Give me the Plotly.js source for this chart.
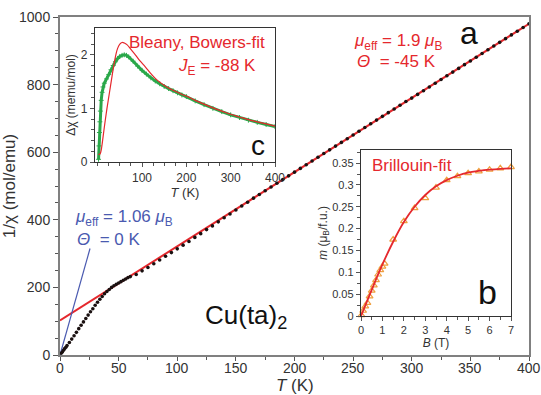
<!DOCTYPE html>
<html><head><meta charset="utf-8">
<script src="https://cdn.plot.ly/plotly-3.0.1.min.js"></script>
<style>html,body{margin:0;padding:0;background:#fff}#c{width:541px;height:395px}</style>
</head><body><div id="c"></div>
<script>
// ---- main panel (a): 1/chi vs T ----
const mainT = [1,2,3,4,5,6,8,10,12,14,16,18,20,22,24,26,28,30,32,34,36,38,40,42,44,46,48,50,52,54,56,58,60,
  65,70,75,80,85,90,95,100,105,110,115,120,125,130,135,140,145,150,155,160,165,170,175,180,185,190,195,200,
  205,210,215,220,225,230,235,240,245,250,255,260,265,270,275,280,285,290,295,300,305,310,315,320,325,330,
  335,340,345,350,355,360,365,370,375,380,385,390,395,400];
const mainInvChi = [5,9,14,19,23,28,37,47,57,67,78,88,98,108,118,128,137,147,156,165,173,181,188,194,200,205,209,213,217,221,225,229,232,
  238,249,259,270,281,292,303,314,325,336,348,359,371,382,394,406,417,429,441,452,464,475,486,497,508,519,530,541,
  552,563,574,585,596,607,618,629,640,651,662,673,684,695,706,717,728,739,750,760,771,782,793,804,815,826,
  837,848,859,870,881,892,903,914,925,936,947,958,969,980];
const cwFitT = [0, 400];
const cwFitY = [102, 980];
const lowFitT = [0, 25.6];
const lowFitY = [0, 315];
const mainXTicks = [0, 50, 100, 150, 200, 250, 300, 350, 400];
const mainYTicks = [0, 200, 400, 600, 800, 1000];

// ---- inset (c): delta chi vs T ----
const cT = [2,3,4,5,6,8,10,12,15,20,25,30,35,40,45,50,55,60,65,70,80,90,100,110,120,130,140,150,160,170,180,190,200,
  220,240,260,280,300,320,340,360,380,400];
const cChi = [0.05,0.3,0.55,0.75,0.95,1.15,1.3,1.4,1.47,1.55,1.63,1.72,1.8,1.87,1.93,1.97,1.99,2.0,1.99,1.96,1.88,1.79,1.71,1.64,1.57,1.51,1.46,1.41,1.37,1.33,1.29,1.25,1.22,
  1.14,1.07,1.0,0.94,0.88,0.83,0.78,0.74,0.70,0.66];
const bbT = [2,4,6,8,10,13,17,21,25,29,33,37,41,45,50,55,60,66,75,85,95,107,120,130,140,150,160,170,180,190,200,
  220,240,260,280,300,320,340,360,380,400];
const bbChi = [0.15,0.14,0.16,0.22,0.33,0.52,0.77,1.0,1.21,1.42,1.63,1.83,2.0,2.12,2.2,2.23,2.22,2.19,2.1,2.0,1.89,1.78,1.65,1.56,1.49,1.43,1.38,1.34,1.3,1.26,1.23,
  1.15,1.08,1.01,0.95,0.89,0.84,0.79,0.75,0.71,0.67];
const cXTicks = [100, 200, 300, 400];
const cYTicks = [0, 1, 2];

// ---- inset (b): magnetisation vs B ----
const bField = [0.02,0.1,0.2,0.3,0.4,0.5,0.6,0.7,0.8,0.9,1.0,1.1,1.5,2.0,2.5,3.0,3.5,4.0,4.5,5.0,5.5,6.0,6.5,7.0];
const bMoment = [0.002,0.012,0.022,0.03,0.045,0.058,0.07,0.082,0.095,0.105,0.113,0.12,0.175,0.217,0.247,0.27,0.294,0.311,0.32,0.327,0.331,0.335,0.338,0.341];
const brFitB = [0,0.5,1,1.5,2,2.5,3,3.5,4,4.5,5,5.5,6,6.5,7];
const brFitM = [0,0.06,0.118,0.17,0.215,0.25,0.277,0.297,0.311,0.321,0.328,0.332,0.335,0.337,0.338];

const RED = '#e5282d', BLUE = '#4a5ab0', GREEN = '#2aa84a', ORANGE = '#f0a040';
const FONT = 'Liberation Sans, Arial, sans-serif';
const px = x => (x - 60) / 469;
const py = y => (355 - y) / 338;

const traces = [
  {x: cwFitT, y: cwFitY, mode: 'lines', line: {color: RED, width: 2}, xaxis: 'x', yaxis: 'y', hoverinfo: 'skip'},
  {x: lowFitT, y: lowFitY, mode: 'lines', line: {color: BLUE, width: 1.2}, xaxis: 'x', yaxis: 'y'},
  {x: mainT, y: mainInvChi, mode: 'markers', marker: {color: '#1a1010', size: 3.6}, cliponaxis: false, xaxis: 'x', yaxis: 'y'},
  {x: cT, y: cChi, mode: 'lines+markers', line: {color: GREEN, width: 3}, marker: {color: GREEN, size: 3.5, symbol: 'cross-thin', line: {color: GREEN, width: 1}}, xaxis: 'x2', yaxis: 'y2'},
  {x: bbT, y: bbChi, mode: 'lines', line: {color: RED, width: 1.2, shape: 'spline'}, xaxis: 'x2', yaxis: 'y2'},
  {x: bField, y: bMoment, mode: 'markers', marker: {symbol: 'triangle-up-open', color: ORANGE, size: 6, line: {width: 1.2}}, cliponaxis: false, xaxis: 'x3', yaxis: 'y3'},
  {x: brFitB, y: brFitM, mode: 'lines', line: {color: RED, width: 1.8, shape: 'spline'}, xaxis: 'x3', yaxis: 'y3'}
];

const axBase = {showgrid: false, zeroline: false, showline: true, mirror: true, ticks: 'outside', tickcolor: '#555', color: '#333'};

// main x tick labels placed through the x axis scale (annotations in data x, paper y)
const xTickLabels = mainXTicks.map(v => ({text: String(v), x: v, xref: 'x', y: py(368), yref: 'paper',
  xanchor: 'center', yanchor: 'middle', showarrow: false, font: {size: 14, color: '#333'}}));

const layout = {
  width: 541, height: 395,
  margin: {l: 60, r: 12, t: 17, b: 40},
  paper_bgcolor: '#fff', plot_bgcolor: 'rgba(0,0,0,0)',
  showlegend: false,
  font: {family: FONT, color: '#333'},
  xaxis: Object.assign({}, axBase, {range: [0, 400], tickmode: 'array', tickvals: mainXTicks, showticklabels: false, ticklen: 4, linecolor: '#808080', linewidth: 2,
    minor: {dtick: 25, tick0: 0, ticklen: 2.5, ticks: 'outside', tickcolor: '#555'},
    domain: [0, 1], anchor: 'y'}),
  yaxis: Object.assign({}, axBase, {range: [0, 1000], tickmode: 'array', tickvals: mainYTicks, ticklen: 5, linecolor: '#808080', linewidth: 2,
    tickfont: {size: 14, color: '#333'}, minor: {dtick: 50, tick0: 0, ticklen: 3, ticks: 'outside', tickcolor: '#555'},
    title: {text: '1/χ (mol/emu)', font: {size: 17, color: '#333'}, standoff: 5}, domain: [0, 1], anchor: 'x'}),
  xaxis2: Object.assign({}, axBase, {range: [-6, 400], tickvals: cXTicks, ticklen: 4, linecolor: '#333', linewidth: 1.2,
    tickfont: {size: 12, color: '#333'}, minor: {dtick: 25, tick0: 0, ticklen: 2.5, ticks: 'outside', tickcolor: '#555'},
    title: {text: '<i>T</i> (K)', font: {size: 13, color: '#333'}, standoff: 2},
    domain: [px(95), px(275)], anchor: 'y2'}),
  yaxis2: Object.assign({}, axBase, {range: [0, 2.5], tickvals: cYTicks, ticklen: 4, linecolor: '#333', linewidth: 1.2,
    tickfont: {size: 12, color: '#333'}, minor: {dtick: 0.2, tick0: 0, ticklen: 2.5, ticks: 'outside', tickcolor: '#555'},
    title: {text: 'Δχ (memu/mol)', font: {size: 12, color: '#333'}, standoff: 2},
    domain: [py(162), py(28)], anchor: 'x2'}),
  xaxis3: Object.assign({}, axBase, {range: [0, 7], tickmode: 'linear', tick0: 0, dtick: 1, ticklen: 4, linecolor: '#333', linewidth: 1.2,
    tickfont: {size: 11, color: '#333'}, minor: {dtick: 0.5, ticklen: 2.5, ticks: 'outside', tickcolor: '#555'},
    title: {text: '<i>B</i> (T)', font: {size: 12, color: '#333'}, standoff: 2},
    domain: [px(361), px(511)], anchor: 'y3'}),
  yaxis3: Object.assign({}, axBase, {range: [0, 0.38], tickmode: 'linear', tick0: 0, dtick: 0.05, ticklen: 4, linecolor: '#333', linewidth: 1.2,
    tickfont: {size: 11, color: '#333'}, minor: {dtick: 0.025, ticklen: 2.5, ticks: 'outside', tickcolor: '#555'},
    title: {text: '<i>m</i> (μ<sub>B</sub>/f.u.)', font: {size: 12, color: '#333'}, standoff: 2},
    domain: [py(316), py(150)], anchor: 'x3'}),
  annotations: [
    {text: '<i>T</i> (K)', x: px(295), y: py(385), xanchor: 'center', yanchor: 'middle', font: {size: 17, color: '#333'}},
    {text: '<i>μ</i><sub>eff</sub> = 1.9 <i>μ</i><sub>B</sub>', x: px(352), y: py(42), xanchor: 'left', yanchor: 'middle', font: {size: 17, color: RED}},
    {text: '<i>Θ</i>  = -45 K', x: px(355), y: py(61), xanchor: 'left', yanchor: 'middle', font: {size: 17, color: RED}},
    {text: 'a', x: px(469), y: py(33), xanchor: 'center', yanchor: 'middle', font: {size: 32, color: '#111'}},
    {text: '<i>μ</i><sub>eff</sub> = 1.06 <i>μ</i><sub>B</sub>', x: px(73), y: py(218), xanchor: 'left', yanchor: 'middle', font: {size: 17, color: BLUE}},
    {text: '<i>Θ</i>  = 0 K', x: px(75), y: py(239), xanchor: 'left', yanchor: 'middle', font: {size: 17, color: BLUE}},
    {text: 'Cu(ta)<sub>2</sub>', x: px(203), y: py(316), xanchor: 'left', yanchor: 'middle', font: {size: 26, color: '#111'}},
    {text: 'Bleany, Bowers-fit', x: px(267), y: py(43), xanchor: 'right', yanchor: 'middle', font: {size: 17, color: RED}},
    {text: '<i>J</i><sub>E</sub> = -88 K', x: px(258), y: py(67), xanchor: 'right', yanchor: 'middle', font: {size: 17, color: RED}},
    {text: 'c', x: px(258), y: py(145), xanchor: 'center', yanchor: 'middle', font: {size: 28, color: '#111'}},
    {text: 'Brillouin-fit', x: px(370), y: py(165), xanchor: 'left', yanchor: 'middle', font: {size: 17, color: RED}},
    {text: 'b', x: px(487), y: py(292), xanchor: 'center', yanchor: 'middle', font: {size: 34, color: '#111'}}
  ].map(a => Object.assign({xref: 'paper', yref: 'paper', showarrow: false}, a)).concat(xTickLabels)
};

Plotly.newPlot('c', traces, layout, {staticPlot: true, displayModeBar: false});
</script>
</body></html>
